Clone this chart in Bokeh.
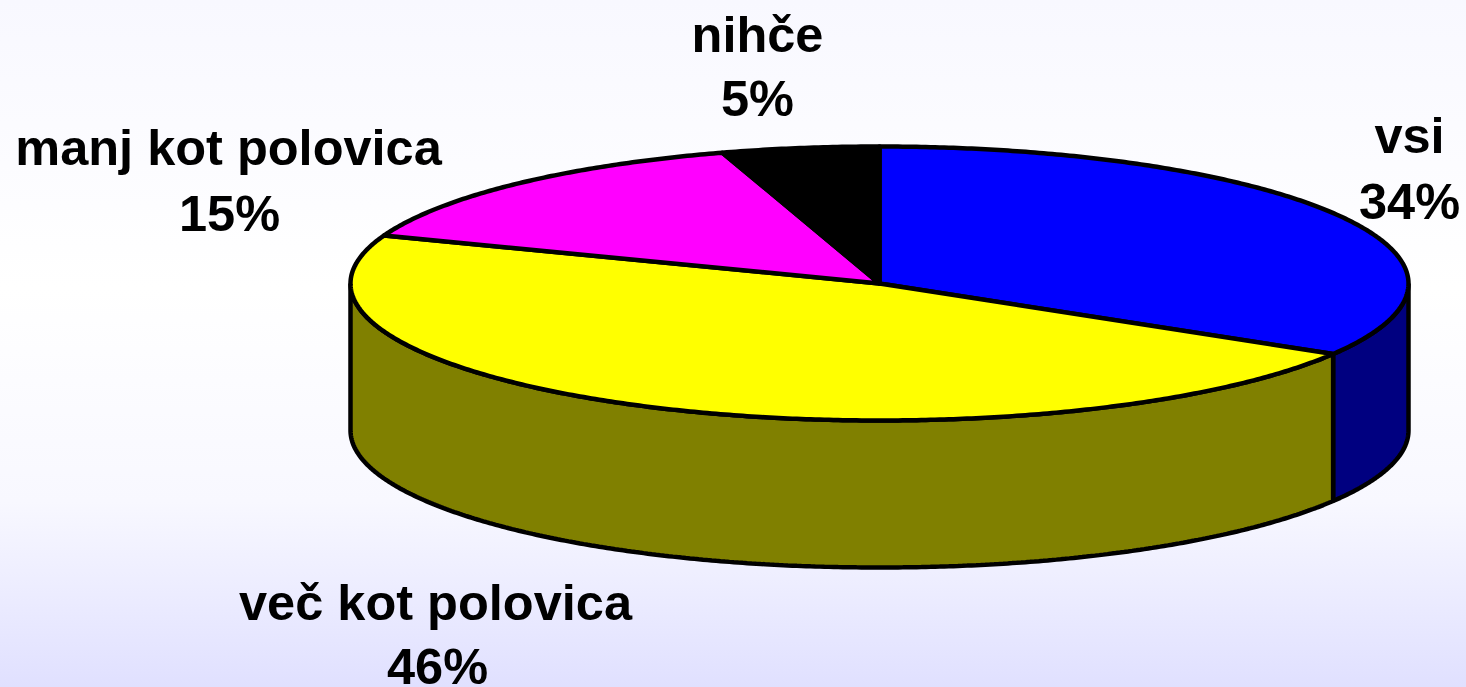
import numpy as np
from bokeh.plotting import figure
from bokeh.models import Range1d
from bokeh.core.properties import value
from bokeh.embed import file_html
from bokeh.resources import INLINE

categories = ["vsi", "več kot polovica", "manj kot polovica", "nihče"]
shares = [33.6, 47.1, 14.5, 4.8]
percent_labels = ["34%", "46%", "15%", "5%"]
top_colors = ["#0000ff", "#ffff00", "#ff00ff", "#000000"]
side_colors = ["#000080", "#808000", "#800080", "#000000"]
label_x = [1409, 435, 228, 757]
name_y = [135, 602, 147, 34]
percent_x = [1409, 437, 229, 757]
percent_y = [201, 666, 213, 98]

W, H = 1466, 687
CX, CY, A, B, DEPTH = 879, 283, 529, 137, 147
FONT = value("Liberation Sans")


def arc(t0, t1):
    t = np.radians(np.linspace(t0, t1, max(2, int(abs(t1 - t0) * 2) + 1)))
    return CX + A * np.sin(t), CY - B * np.cos(t)


p = figure(width=W, height=H, x_range=Range1d(0, W), y_range=Range1d(H, 0),
           toolbar_location=None, output_backend="svg", min_border=0,
           styles={"background": "linear-gradient(180deg,#f8f8ff 0%,#ffffff 42%,"
                                 "#f8f8ff 73%,#e0e0ff 100%)"})
p.axis.visible = False
p.grid.visible = False
p.outline_line_color = None
p.background_fill_alpha = 0
p.border_fill_alpha = 0

edges = np.cumsum([0] + shares) * 3.6

# front wall: only the part of each slice between 90 and 270 degrees shows
for i in range(len(shares)):
    lo, hi = max(edges[i], 90), min(edges[i + 1], 270)
    if hi <= lo:
        continue
    x, y = arc(lo, hi)
    p.patch(np.r_[x, x[::-1]], np.r_[y, y[::-1] + DEPTH],
            fill_color=side_colors[i], line_color="black", line_width=4.5)

# top face
for i in range(len(shares)):
    x, y = arc(edges[i], edges[i + 1])
    p.patch(np.r_[CX, x], np.r_[CY, y], fill_color=top_colors[i],
            line_color="black", line_width=4.5, line_join="round")

for xs, ys, texts in ((label_x, name_y, categories), (percent_x, percent_y, percent_labels)):
    p.text(xs, ys, text=texts, text_font=FONT, text_font_style="bold",
           text_font_size="50.5px", text_align="center", text_baseline="alphabetic",
           text_color="black")

open("out.html", "w").write(file_html(p, INLINE))
